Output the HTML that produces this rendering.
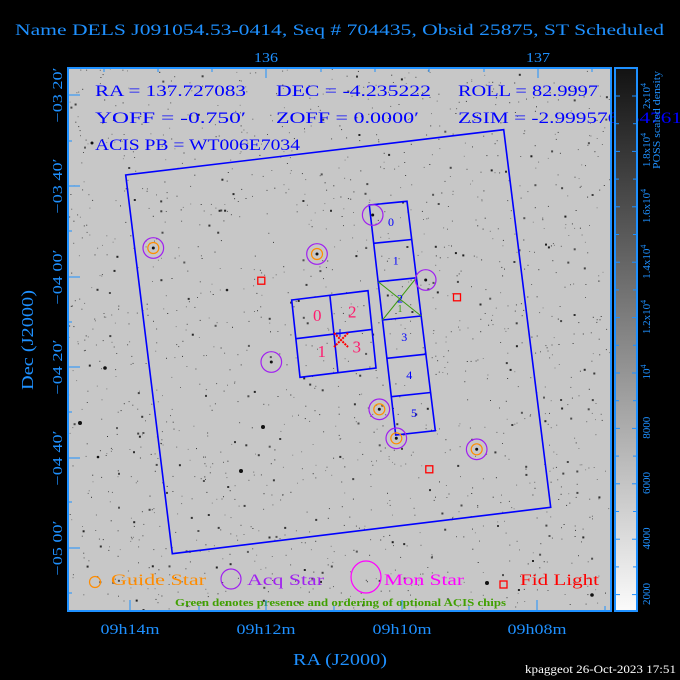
<!DOCTYPE html>
<html><head><meta charset="utf-8"><style>
html,body{margin:0;padding:0;background:#000;}
svg{display:block;}
text{font-family:"Liberation Serif",serif;}
</style></head><body>
<svg id="s" width="680" height="680" viewBox="0 0 680 680" xmlns="http://www.w3.org/2000/svg">
<defs>
<linearGradient id="cb" x1="0" y1="1" x2="0" y2="0">
<stop offset="0" stop-color="#fbfbfb"/><stop offset="1" stop-color="#121212"/>
</linearGradient>
<clipPath id="pc"><rect x="68" y="68" width="543" height="543"/></clipPath>
</defs>
<rect width="680" height="680" fill="#000"/>
<text x="15" y="35" font-size="16" fill="#1e90ff" textLength="649" lengthAdjust="spacingAndGlyphs">Name DELS J091054.53-0414, Seq # 704435, Obsid 25875, ST Scheduled</text>

<!-- plot background -->
<rect x="68" y="68" width="543" height="543" fill="#c7c7c7"/>
<g id="dots" clip-path="url(#pc)">
<circle cx="263" cy="427" r="2" fill="#111"/>
<circle cx="241" cy="471" r="2" fill="#111"/>
<circle cx="105" cy="368" r="1.8" fill="#111"/>
<circle cx="92" cy="143" r="1.5" fill="#111"/>
<circle cx="80" cy="423" r="2" fill="#111"/>
<circle cx="98" cy="457" r="1.3" fill="#111"/>
<circle cx="487" cy="583" r="2" fill="#111"/>
<circle cx="592" cy="595" r="1.8" fill="#111"/>
<circle cx="227" cy="290" r="1.3" fill="#222"/>
</g>

<!-- info text -->
<g fill="#0000ff" font-size="16">
<text x="95" y="96" textLength="151" lengthAdjust="spacingAndGlyphs">RA = 137.727083</text>
<text x="276" y="96" textLength="155" lengthAdjust="spacingAndGlyphs">DEC = -4.235222</text>
<text x="458" y="96" textLength="140" lengthAdjust="spacingAndGlyphs">ROLL = 82.9997</text>
<text x="95" y="123" textLength="151" lengthAdjust="spacingAndGlyphs">YOFF =  -0.750′</text>
<text x="276" y="123" textLength="143" lengthAdjust="spacingAndGlyphs">ZOFF =  0.0000′</text>
<text x="458" y="123" textLength="224" lengthAdjust="spacingAndGlyphs">ZSIM = -2.999576554761</text>
<text x="95" y="150" textLength="205" lengthAdjust="spacingAndGlyphs">ACIS PB = WT006E7034</text>
</g>

<g clip-path="url(#pc)">
<!-- FOV -->
<polygon points="125.7,175 503.7,129.7 550.7,507.3 172.3,553.7" fill="none" stroke="#0000ff" stroke-width="1.6"/>
<!-- ACIS-S -->
<g fill="none" stroke="#0000ff" stroke-width="1.6">
<polygon points="369.3,205 407,201.3 435.3,430.7 395.7,435"/>
<line x1="373.7" y1="243.3" x2="411.7" y2="239.5"/>
<line x1="378.1" y1="281.7" x2="416.4" y2="277.8"/>
<line x1="382.5" y1="320" x2="421.2" y2="316"/>
<line x1="386.9" y1="358.3" x2="425.9" y2="354.2"/>
<line x1="391.3" y1="396.7" x2="430.6" y2="392.5"/>
</g>
<g stroke="#3c9a10" stroke-width="1">
<line x1="378.1" y1="281.7" x2="421.2" y2="316"/>
<line x1="416.4" y1="277.8" x2="382.5" y2="320"/>
</g>
<g fill="#0000ff" font-size="12" text-anchor="middle">
<text x="391" y="226">0</text>
<text x="395.7" y="264.5">1</text>
<text x="400" y="302.5">2</text>
<text x="404.3" y="341">3</text>
<text x="409.3" y="378.8">4</text>
<text x="414" y="417">5</text>
</g>
<text x="400" y="312" fill="#3c9a10" font-size="10" text-anchor="middle">1</text>
<!-- ACIS-I -->
<g fill="none" stroke="#0000ff" stroke-width="1.6">
<polygon points="291.7,300 368,290.7 376,368 300,377.3"/>
<line x1="329.9" y1="295.4" x2="338" y2="372.7"/>
<line x1="295.9" y1="338.7" x2="372" y2="329.4"/>
</g>
<g fill="#ff1a6e" font-size="17" text-anchor="middle">
<text x="317.3" y="321">0</text>
<text x="352.3" y="317.5">2</text>
<text x="321.7" y="357">1</text>
<text x="356.7" y="352.5">3</text>
</g>
<g stroke="#0000ff" stroke-width="1"><line x1="336" y1="333" x2="344" y2="333"/><line x1="340" y1="329" x2="340" y2="337"/></g>
<g stroke="#ff0000" stroke-width="2" stroke-dasharray="2,1">
<line x1="334" y1="333" x2="348" y2="347"/><line x1="348" y1="333" x2="334" y2="347"/>
</g>

<!-- stars -->
<g fill="#111">
<circle cx="153.3" cy="248" r="1.5"/><circle cx="317" cy="254" r="1.5"/><circle cx="379.3" cy="409.3" r="1.5"/>
<circle cx="396.3" cy="438.3" r="1.5"/><circle cx="476.7" cy="449.3" r="1.5"/>
<circle cx="372.7" cy="215" r="1.5"/><circle cx="425.7" cy="280" r="1.5"/><circle cx="271.3" cy="362" r="1.5"/>
</g>
<g fill="none" stroke="#ff8c00" stroke-width="1.2">
<circle cx="153.3" cy="248" r="5.5"/><circle cx="317" cy="254" r="5.5"/><circle cx="379.3" cy="409.3" r="5.5"/>
<circle cx="396.3" cy="438.3" r="5.5"/><circle cx="476.7" cy="449.3" r="5.5"/>
</g>
<g fill="none" stroke="#a020f0" stroke-width="1.2">
<circle cx="153.3" cy="248" r="10.3"/><circle cx="317" cy="254" r="10.3"/><circle cx="379.3" cy="409.3" r="10.3"/>
<circle cx="396.3" cy="438.3" r="10.3"/><circle cx="476.7" cy="449.3" r="10.3"/>
<circle cx="372.7" cy="215" r="10.3"/><circle cx="425.7" cy="280" r="10.3"/><circle cx="271.3" cy="362" r="10.3"/>
</g>
<g fill="none" stroke="#ff0000" stroke-width="1.3">
<rect x="257.8" y="277.2" width="7" height="7"/>
<rect x="453.5" y="293.8" width="7" height="7"/>
<rect x="425.8" y="465.8" width="7" height="7"/>
</g>

<!-- legend -->
<circle cx="95" cy="582" r="5.5" fill="none" stroke="#ff8c00" stroke-width="1.2"/>
<text x="111" y="585" font-size="16" fill="#ff8c00" textLength="95" lengthAdjust="spacingAndGlyphs">Guide Star</text>
<circle cx="231" cy="579" r="10" fill="none" stroke="#a020f0" stroke-width="1.2"/>
<text x="247" y="585" font-size="16" fill="#a020f0" textLength="77" lengthAdjust="spacingAndGlyphs">Acq Star</text>
<ellipse cx="366" cy="577" rx="15" ry="16" fill="none" stroke="#ff00ff" stroke-width="1.2"/>
<text x="384" y="585" font-size="16" fill="#ff00ff" textLength="80" lengthAdjust="spacingAndGlyphs">Mon Star</text>
<rect x="500" y="581" width="7" height="7" fill="none" stroke="#ff0000" stroke-width="1.3"/>
<text x="520" y="585" font-size="16" fill="#ff0000" textLength="79" lengthAdjust="spacingAndGlyphs">Fid Light</text>
<text x="175" y="606" font-size="11" font-weight="bold" fill="#40a000" textLength="331" lengthAdjust="spacingAndGlyphs">Green denotes presence and ordering of optional ACIS chips</text>
</g>

<!-- plot ticks -->
<g stroke="#1e90ff" stroke-width="1">
<line x1="266" y1="68" x2="266" y2="78"/><line x1="538" y1="68" x2="538" y2="78"/>
<line x1="104" y1="68" x2="104" y2="72"/><line x1="158" y1="68" x2="158" y2="72"/><line x1="212" y1="68" x2="212" y2="72"/>
<line x1="321" y1="68" x2="321" y2="72"/><line x1="375" y1="68" x2="375" y2="72"/><line x1="429" y1="68" x2="429" y2="72"/>
<line x1="484" y1="68" x2="484" y2="72"/><line x1="592" y1="68" x2="592" y2="72"/>
<line x1="130" y1="611" x2="130" y2="600"/><line x1="266" y1="611" x2="266" y2="600"/><line x1="402" y1="611" x2="402" y2="600"/><line x1="537" y1="611" x2="537" y2="600"/>
<line x1="199" y1="611" x2="199" y2="606"/><line x1="334" y1="611" x2="334" y2="606"/><line x1="469" y1="611" x2="469" y2="606"/><line x1="605" y1="611" x2="605" y2="606"/>
<line x1="68" y1="95" x2="80" y2="95"/><line x1="68" y1="186" x2="80" y2="186"/><line x1="68" y1="277" x2="80" y2="277"/>
<line x1="68" y1="367" x2="80" y2="367"/><line x1="68" y1="458" x2="80" y2="458"/><line x1="68" y1="548" x2="80" y2="548"/>
<line x1="68" y1="141" x2="72" y2="141"/><line x1="68" y1="231" x2="72" y2="231"/><line x1="68" y1="322" x2="72" y2="322"/>
<line x1="68" y1="412" x2="72" y2="412"/><line x1="68" y1="502" x2="72" y2="502"/><line x1="68" y1="593" x2="72" y2="593"/>
</g>
<rect x="68" y="68" width="543" height="543" fill="none" stroke="#1e90ff" stroke-width="2"/>

<!-- colorbar -->
<rect x="615" y="68" width="22" height="543" fill="url(#cb)" stroke="#1e90ff" stroke-width="2"/>
<g stroke="#1e90ff" stroke-width="1" id="cbt"></g>
<g fill="#1e90ff" font-size="11" text-anchor="middle">
<text transform="translate(650,594) rotate(-90)">2000</text>
<text transform="translate(650,538.5) rotate(-90)">4000</text>
<text transform="translate(650,483) rotate(-90)">6000</text>
<text transform="translate(650,427.7) rotate(-90)">8000</text>
<text transform="translate(650,372) rotate(-90)">10<tspan font-size="8" dy="-4">4</tspan></text>
<text transform="translate(650,317) rotate(-90)">1.2x10<tspan font-size="8" dy="-4">4</tspan></text>
<text transform="translate(650,261.7) rotate(-90)">1.4x10<tspan font-size="8" dy="-4">4</tspan></text>
<text transform="translate(650,206) rotate(-90)">1.6x10<tspan font-size="8" dy="-4">4</tspan></text>
<text transform="translate(650,150) rotate(-90)">1.8x10<tspan font-size="8" dy="-4">4</tspan></text>
<text transform="translate(650,96) rotate(-90)">2x10<tspan font-size="8" dy="-4">4</tspan></text>
<text transform="translate(660,120) rotate(-90)" textLength="98" lengthAdjust="spacingAndGlyphs">POSS scaled density</text>
</g>

<!-- axis labels -->
<g fill="#1e90ff" text-anchor="middle">
<text x="266" y="62" font-size="14" textLength="24" lengthAdjust="spacingAndGlyphs">136</text>
<text x="538" y="62" font-size="14" textLength="24" lengthAdjust="spacingAndGlyphs">137</text>
<text x="130" y="634" font-size="15" textLength="59" lengthAdjust="spacingAndGlyphs">09h14m</text>
<text x="266" y="634" font-size="15" textLength="59" lengthAdjust="spacingAndGlyphs">09h12m</text>
<text x="402" y="634" font-size="15" textLength="59" lengthAdjust="spacingAndGlyphs">09h10m</text>
<text x="537" y="634" font-size="15" textLength="59" lengthAdjust="spacingAndGlyphs">09h08m</text>
<text x="340" y="665" font-size="17" textLength="94" lengthAdjust="spacingAndGlyphs">RA (J2000)</text>
<g font-size="14">
<text transform="translate(62,95) rotate(-90)" textLength="55" lengthAdjust="spacingAndGlyphs">−03 20′</text>
<text transform="translate(62,186) rotate(-90)" textLength="55" lengthAdjust="spacingAndGlyphs">−03 40′</text>
<text transform="translate(62,277) rotate(-90)" textLength="55" lengthAdjust="spacingAndGlyphs">−04 00′</text>
<text transform="translate(62,367) rotate(-90)" textLength="55" lengthAdjust="spacingAndGlyphs">−04 20′</text>
<text transform="translate(62,458) rotate(-90)" textLength="55" lengthAdjust="spacingAndGlyphs">−04 40′</text>
<text transform="translate(62,548) rotate(-90)" textLength="55" lengthAdjust="spacingAndGlyphs">−05 00′</text>
</g>
<text transform="translate(33,340) rotate(-90)" font-size="17" textLength="100" lengthAdjust="spacingAndGlyphs">Dec (J2000)</text>
</g>
<text x="525" y="673" font-size="12" fill="#ffffff" textLength="151" lengthAdjust="spacingAndGlyphs">kpaggeot 26-Oct-2023 17:51</text>
</svg>
<script>
(function(){
var NS="http://www.w3.org/2000/svg";
var g=document.getElementById("dots");
var seed=12345;
function r(){seed=(seed*1103515245+12345)%2147483648;return seed/2147483648;}
for(var i=0;i<1700;i++){
 var x=68+r()*543,y=68+r()*543;
 var e=document.createElementNS(NS,"rect");
 var big=r()<0.12;
 var s=big?2:1;
 e.setAttribute("x",x.toFixed(1));e.setAttribute("y",y.toFixed(1));
 e.setAttribute("width",s);e.setAttribute("height",s);
 var c=big?Math.floor(30+r()*60):Math.floor(50+r()*90);
 e.setAttribute("fill","rgb("+c+","+c+","+c+")");
 g.appendChild(e);
}
var t=document.getElementById("cbt");
for(var k=0;k<10;k++){
 var y=96+55.4*k;
 [[615,620,y],[637,632,y]].forEach(function(a){
  var l=document.createElementNS(NS,"line");
  l.setAttribute("x1",a[0]);l.setAttribute("x2",a[1]);l.setAttribute("y1",a[2]);l.setAttribute("y2",a[2]);t.appendChild(l);});
 var ym=y+27.7;
 if(ym<611){[[615,619,ym],[637,633,ym]].forEach(function(a){
  var l=document.createElementNS(NS,"line");
  l.setAttribute("x1",a[0]);l.setAttribute("x2",a[1]);l.setAttribute("y1",a[2]);l.setAttribute("y2",a[2]);t.appendChild(l);});}
}
})();
</script>
</body></html>
